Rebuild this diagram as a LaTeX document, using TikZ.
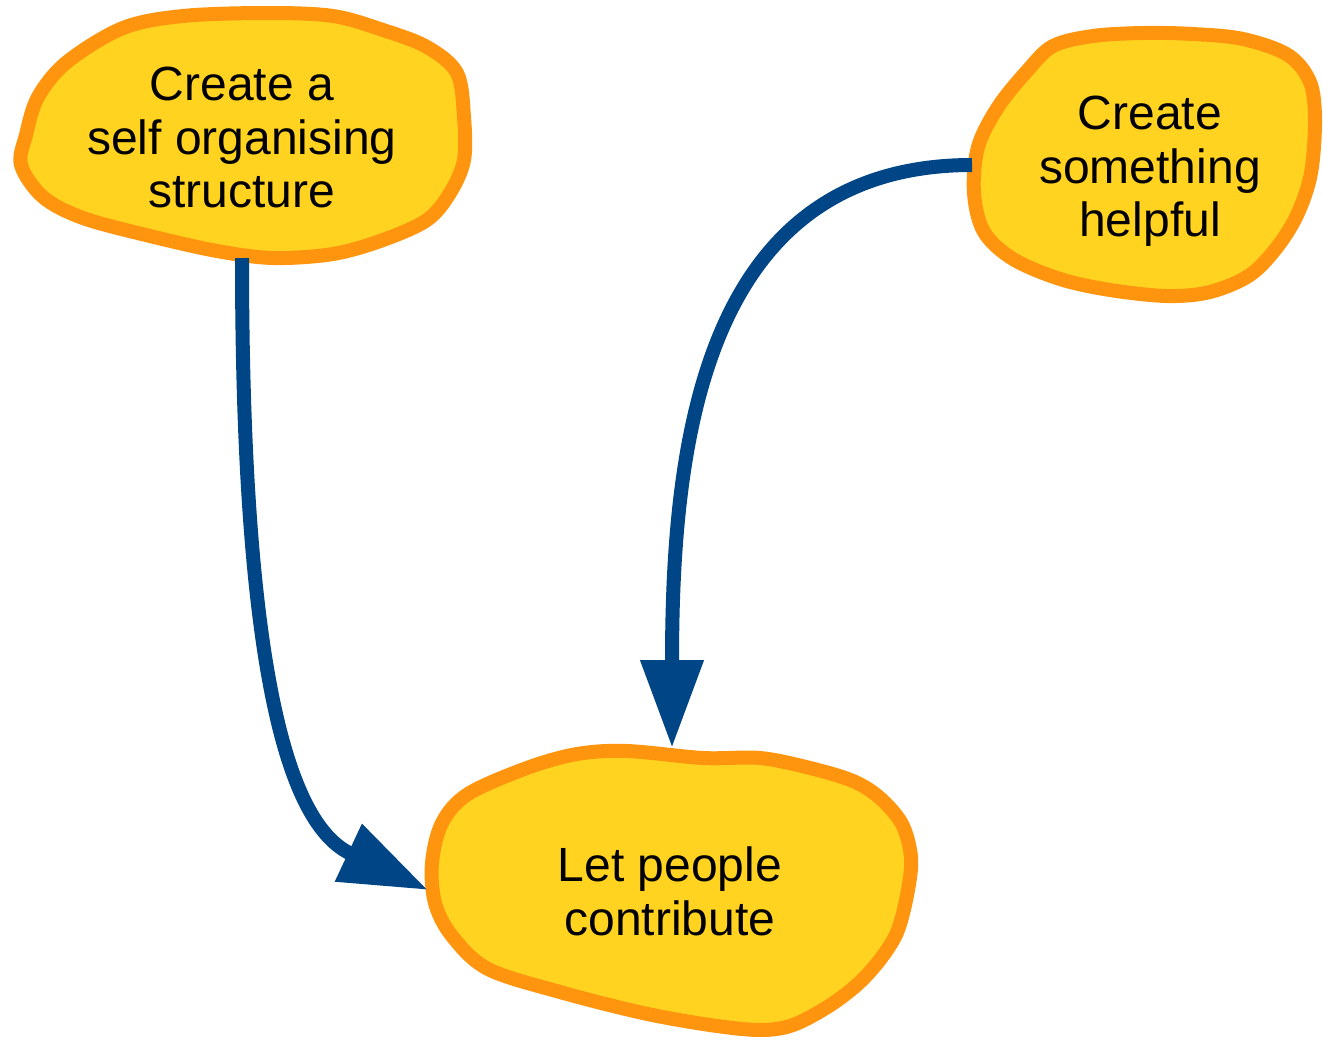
\documentclass[tikz,border=0pt]{standalone}
\usepackage{fontspec}
\setmainfont{Liberation Sans}
\usetikzlibrary{arrows.meta}
\definecolor{blobfill}{HTML}{FFD320}
\definecolor{blobline}{HTML}{FF950E}
\definecolor{arrowblue}{HTML}{004586}
\tikzset{
  blob/.style={draw=blobline, fill=blobfill, line width=14pt, line join=round},
  lbl/.style={align=center, inner sep=0pt, font=\fontsize{48}{53.5}\selectfont},
  conn/.style={draw=arrowblue, line width=14pt,
    -{Triangle[length=88pt, width=60pt, color=arrowblue]}}
}
\begin{document}
\begin{tikzpicture}[x=1pt, y=-1pt]
\useasboundingbox (0,0) rectangle (1323,1041);
% blob 1
\draw[blob] plot[smooth cycle, tension=0.55] coordinates {
 (123,28) (183,16) (267,13) (333,16) (383,30) (427,47) (457,73) (464,117)
 (464,160) (450,193) (427,220) (383,240) (333,254) (273,258) (217,251)
 (150,236) (83,218) (43,197) (21,165) (26,135) (38,97) (67,62)};
% blob 2
\draw[blob] plot[smooth cycle, tension=0.55] coordinates {
 (1093,36) (1143,33) (1193,34) (1243,39) (1288,55) (1310,82) (1315,120)
 (1311,173) (1298,213) (1278,246) (1250,275) (1210,292) (1167,296)
 (1110,290) (1060,279) (1013,259) (984,232) (974,193) (978,147)
 (998,107) (1027,71) (1053,46)};
% blob 3
\draw[blob] plot[smooth cycle, tension=0.55] coordinates {
 (627,751) (703,758) (760,758) (810,768) (853,781) (880,798) (902,824)
 (911,857) (908,890) (898,930) (882,957) (859,983) (829,1006) (793,1025)
 (760,1030) (710,1025) (643,1013) (560,992) (488,969) (452,936)
 (435,903) (432,863) (442,823) (468,794) (527,768) (577,754)};
% labels
\node[lbl] (n1) at (242,137.5) {Create a\\self organising\\structure};
\node[lbl] (n2) at (1150,171.5) {Create\\something\\helpful};
\node[lbl] (n3) at (670,891.5) {Let people\\contribute};
% anchors on blob outlines
\coordinate (n1out) at (242,258);
\coordinate (n2out) at (972,165);
\coordinate (n3left) at (428,890);
\coordinate (n3top) at (672,748);
% connectors
\draw[conn] (n1out) .. controls (242,720) and (300,830) .. (n3left);
\draw[conn] (n2out) .. controls (700,165) and (672,450) .. (n3top);
\end{tikzpicture}
\end{document}
